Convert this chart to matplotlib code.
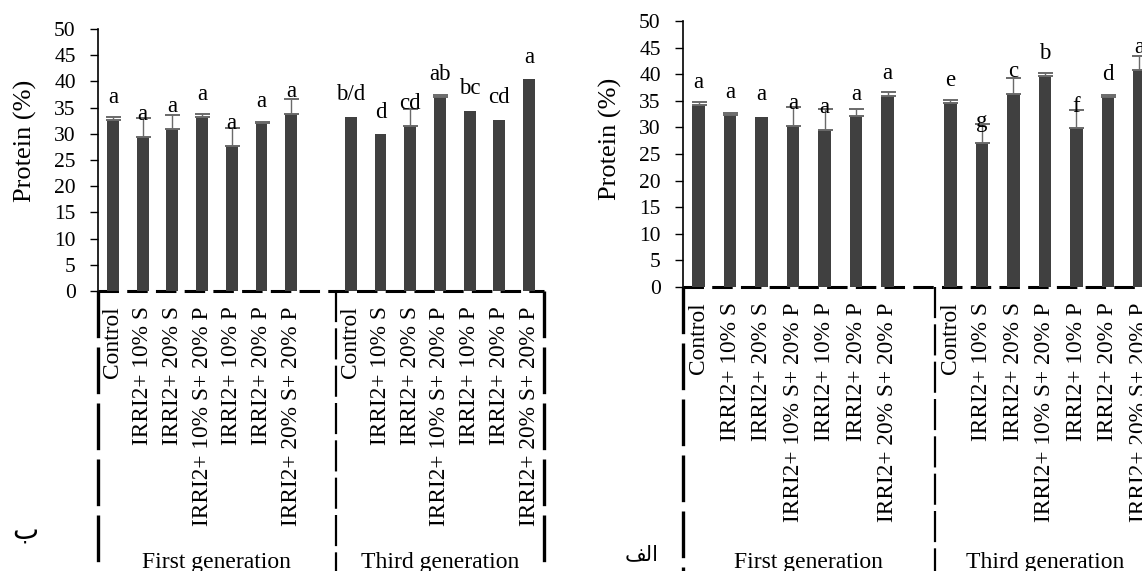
import numpy as np
import matplotlib.pyplot as plt
from matplotlib.transforms import blended_transform_factory

plt.rcParams['font.family'] = ['Liberation Serif', 'DejaVu Sans']

treatments = ['Control', 'IRRI2+ 10% S', 'IRRI2+ 20% S', 'IRRI2+ 10% S+ 20% P',
              'IRRI2+ 10% P', 'IRRI2+ 20% P', 'IRRI2+ 20% S+ 20% P']
generations = ['First generation', 'Third generation']

# panel "ب" (left)
be_first = [32.6, 29.4, 31.0, 33.2, 27.7, 32.0, 33.8]
be_first_err = [0.7, 3.7, 2.6, 0.6, 3.4, 0.3, 2.8]
be_first_let = ['a', 'a', 'a', 'a', 'a', 'a', 'a']
be_third = [33.3, 29.9, 31.5, 37.1, 34.4, 32.6, 40.4]
be_third_err = [0, 0, 3.2, 0.4, 0, 0, 0]
be_third_let = ['b/d', 'd', 'cd', 'ab', 'bc', 'cd', 'a']

# panel "الف" (right)
alef_first = [34.2, 32.3, 32.0, 30.3, 29.5, 32.1, 35.9]
alef_first_err = [0.6, 0.4, 0, 3.5, 4.0, 1.4, 0.7]
alef_first_let = ['a', 'a', 'a', 'a', 'a', 'a', 'a']
alef_third = [34.6, 27.0, 36.3, 39.7, 29.8, 35.7, 40.8]
alef_third_err = [0.6, 3.6, 2.9, 0.5, 3.5, 0.4, 2.6]
alef_third_let = ['e', 'g', 'c', 'b', 'f', 'd', 'a']

W, H = 1142, 571
fig = plt.figure(figsize=(W / 100, H / 100), dpi=100)


def panel(rect, first, first_err, first_let, third, third_err, third_let, ylab_xy):
    ax = fig.add_axes(rect)
    n = len(treatments)
    # one empty slot after the first generation
    x = np.r_[np.arange(n), np.arange(n) + n + 1]
    vals = np.array(first + third)
    errs = np.array(first_err + third_err)
    lets = first_let + third_let

    ax.plot([-0.5, 2 * n + 0.5], [0, 0], color='black', lw=2.2,
            linestyle=(0, (6.7, 2.7)), clip_on=False, zorder=1)
    ax.bar(x, vals, width=0.4, color='#404040', zorder=2)
    m = errs > 0
    ax.errorbar(x[m], vals[m], yerr=[np.zeros(m.sum()), errs[m]], fmt='none',
                ecolor='#6a6a6a', elinewidth=1, capsize=5.4, capthick=1.4, zorder=3)
    for xi, v, t in zip(x, vals, lets):
        ax.annotate(t, (xi, v), xytext=(0, 16), textcoords='offset points',
                    ha='center', va='center', fontsize=16.5)

    tr = ax.get_xaxis_transform()
    for xs, lw in [(-0.5, 2.4), (n + 0.5, 1.6), (2 * n + 0.5, 2.4)]:
        ax.plot([xs, xs], [0, -1.2], transform=tr, color='black', lw=lw,
                linestyle=(0, (14, 2.8)), clip_on=False)

    ax.set_xlim(-0.5, 2 * n + 0.5)
    ax.set_ylim(0, 50)
    ax.set_yticks(np.arange(0, 51, 5))
    ax.set_xticks(x, treatments * 2, rotation=90)
    ax.tick_params(axis='x', length=0, pad=11, labelsize=16.8)
    ax.tick_params(axis='y', direction='out', length=6, width=1, labelsize=15.5, pad=10)
    for s in ['top', 'right', 'bottom']:
        ax.spines[s].set_visible(False)
    ax.spines['left'].set_linewidth(1.2)
    ax.set_ylabel('Protein (%)', fontsize=19)
    ax.yaxis.set_label_coords(*ylab_xy)

    gt = blended_transform_factory(ax.transData, fig.transFigure)
    for cx, g in zip([n / 2, 1.5 * n + 0.5], generations):
        ax.text(cx, 3 / H, g, transform=gt, ha='center', va='baseline', fontsize=17)
    return ax


panel([98 / W, 1 - 291 / H, 446 / W, 262 / H],
      be_first, be_first_err, be_first_let, be_third, be_third_err, be_third_let,
      (-0.137, 0.573))
panel([683 / W, 1 - 287 / H, 472 / W, 266 / H],
      alef_first, alef_first_err, alef_first_let, alef_third, alef_third_err, alef_third_let,
      (-0.129, 0.556))

fig.text(25 / W, 1 - 532 / H, 'ب', ha='center', va='center', fontsize=20)
fig.text(642 / W, 1 - 556 / H, '\ufed2\ufedf\ufe8d', ha='center', va='center', fontsize=15)

fig.savefig('out.png', dpi=100)
